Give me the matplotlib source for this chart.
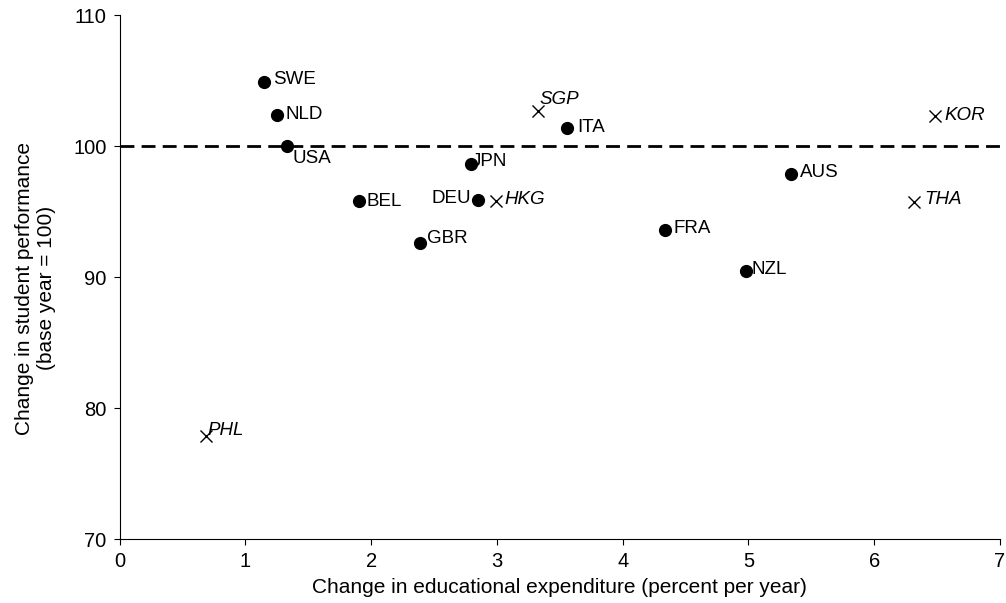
import matplotlib.pyplot as plt

plt.rcParams['font.family'] = ['Liberation Sans', 'DejaVu Sans']

# OECD countries (dots)
oecd_names = ["SWE", "NLD", "USA", "BEL", "GBR", "JPN", "DEU", "ITA", "FRA", "NZL", "AUS"]
oecd_x = [1.15, 1.25, 1.33, 1.90, 2.39, 2.79, 2.85, 3.56, 4.34, 4.98, 5.34]
oecd_y = [104.9, 102.4, 100.0, 95.8, 92.6, 98.6, 95.9, 101.4, 93.6, 90.5, 97.9]

# East Asian countries (crosses, italic labels)
asia_names = ["PHL", "HKG", "SGP", "THA", "KOR"]
asia_x = [0.69, 2.99, 3.33, 6.32, 6.48]
asia_y = [77.9, 95.8, 102.7, 95.7, 102.3]

# label offsets in points (dx, dy, ha)
offsets = {
    "SWE": (6, 2, "left"), "NLD": (6, 0, "left"), "USA": (4, -9, "left"),
    "BEL": (6, 0, "left"), "GBR": (5, 3, "left"), "JPN": (1, 2, "left"),
    "DEU": (-5, 1, "right"), "ITA": (7, 0, "left"), "FRA": (6, 1, "left"),
    "NZL": (4, 1, "left"), "AUS": (6, 1, "left"),
    "PHL": (1, 4, "left"), "HKG": (6, 1, "left"), "SGP": (1, 8, "left"),
    "THA": (7, 2, "left"), "KOR": (7, 0, "left"),
}

fig = plt.figure(figsize=(10.06, 6.03), dpi=100)
ax = fig.add_axes([0.119, 0.106, 0.875, 0.869])

ax.axhline(100, color="black", linestyle=(0, (5, 2.6)), linewidth=2, zorder=1)

ax.scatter(oecd_x, oecd_y, s=72, color="black", marker="o", zorder=3)
ax.scatter(asia_x, asia_y, s=75, color="black", marker="x", linewidths=1, zorder=3)

for name, x, y in zip(oecd_names, oecd_x, oecd_y):
    dx, dy, ha = offsets[name]
    ax.annotate(name, (x, y), xytext=(dx, dy), textcoords="offset points",
                ha=ha, va="center", fontsize=13.5)

for name, x, y in zip(asia_names, asia_x, asia_y):
    dx, dy, ha = offsets[name]
    ax.annotate(name, (x, y), xytext=(dx, dy), textcoords="offset points",
                ha=ha, va="center", fontsize=13.5, style="italic")

ax.set_xlim(0, 7)
ax.set_ylim(70, 110)
ax.set_xticks(range(0, 8))
ax.set_yticks([70, 80, 90, 100, 110])
ax.tick_params(labelsize=14.5, direction="out", length=4.5, pad=5)

ax.spines["top"].set_visible(False)
ax.spines["right"].set_visible(False)

ax.set_xlabel("Change in educational expenditure (percent per year)", fontsize=15, labelpad=5)
ax.set_ylabel("Change in student performance\n(base year = 100)", fontsize=15)
ax.yaxis.set_label_coords(-0.072, 0.479)

fig.savefig("out.png", dpi=100)
